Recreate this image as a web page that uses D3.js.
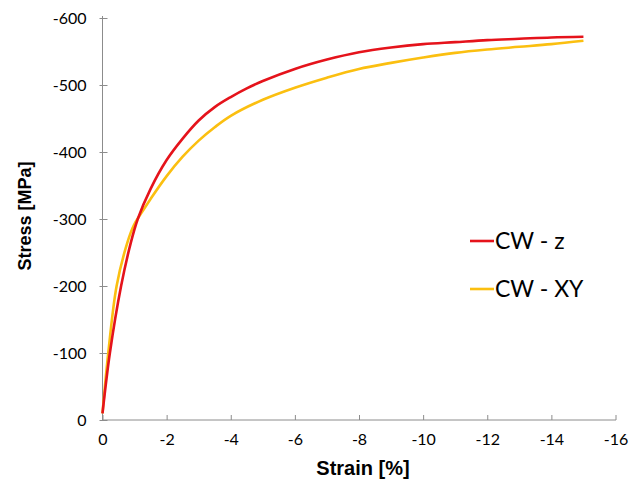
<!DOCTYPE html>
<html lang="en">
<head>
<meta charset="utf-8">
<style>
  body { margin: 0; background: #fff; }
  .axis path, .axis line { stroke: #8c8c8c; }
  .tick text { font-family: Lato, "Open Sans", sans-serif; font-size: 16px; fill: #000; }
  .title { font-family: "Liberation Sans", Arial, sans-serif; font-weight: bold; }
  .legend text { font-family: Lato, "Open Sans", sans-serif; font-size: 23px; }
</style>
<script src="https://cdn.jsdelivr.net/npm/d3@7"></script>
</head>
<body>
<svg width="630" height="489"></svg>
<script>
// strain [%], stress [MPa]
var cwzStrain = [0, -0.23, -0.58, -0.88, -1.1, -1.5, -2, -2.5, -3, -3.5, -4, -4.5, -5, -6, -7, -8, -9, -10, -11, -12, -13, -14, -15];
var cwzStress = [-10, -100, -200, -264, -300, -345, -388, -420, -447, -467, -482, -495, -506, -524, -538, -549, -556, -561, -564, -567, -569, -571, -572];

var cwxyStrain = [0, -0.18, -0.44, -0.77, -0.98, -1.2, -1.5, -2, -2.5, -3, -3.5, -4, -5, -6, -7, -8, -9, -10, -11, -12, -13, -14, -15];
var cwxyStress = [-10, -100, -200, -264, -291, -308, -330, -364, -393, -417, -437, -454, -478, -496, -511, -524, -533, -541, -548, -553, -557, -561, -566];

var xTicks = [0, -2, -4, -6, -8, -10, -12, -14, -16];
var yTicks = [0, -100, -200, -300, -400, -500, -600];

var series = [
  { name: "CW - z", color: "#e5131b", x: cwzStrain, y: cwzStress },
  { name: "CW - XY", color: "#fbbf10", x: cwxyStrain, y: cwxyStress }
];

var svg = d3.select("svg");
var x = d3.scaleLinear().domain([0, -16]).range([102.5, 615.5]);
var y = d3.scaleLinear().domain([0, -600]).range([420, 18]);
var fmt = function(d) { return String(d); };   // plain hyphen, like the original

// x axis, ticks point up
var gx = svg.append("g").attr("class", "axis")
    .attr("transform", "translate(0,420)")
    .call(d3.axisBottom(x).tickValues(xTicks).tickFormat(fmt)
      .tickSizeInner(-5).tickSizeOuter(0).tickPadding(14));
gx.select(".domain").attr("d", "M102.5,0H616");

// y axis, ticks cross the line
var gy = svg.append("g").attr("class", "axis")
    .attr("transform", "translate(102.5,0)")
    .call(d3.axisLeft(y).tickValues(yTicks).tickFormat(fmt)
      .tickSizeInner(3).tickSizeOuter(0).tickPadding(13));
gy.selectAll(".tick line").attr("x2", 5).attr("x1", -3);
gy.select(".domain").attr("d", "M0,420V16");

series.slice().reverse().forEach(function(s) {
  var pts = s.x.map(function(v, i) { return [v, s.y[i]]; });
  svg.append("path")
      .datum(pts)
      .attr("fill", "none")
      .attr("stroke", s.color)
      .attr("stroke-width", 2.6)
      .attr("d", d3.line()
        .x(function(d) { return x(d[0]); })
        .y(function(d) { return y(d[1]); })
        .curve(d3.curveCatmullRom.alpha(0.5)));
});

svg.append("text").attr("class", "title")
    .attr("x", 363).attr("y", 475).attr("text-anchor", "middle")
    .style("font-size", "20px")
    .text("Strain [%]");
svg.append("text").attr("class", "title")
    .attr("transform", "translate(31,216) rotate(-90)")
    .attr("text-anchor", "middle")
    .style("font-size", "18px")
    .text("Stress [MPa]");

var legend = svg.append("g").attr("class", "legend");
series.forEach(function(s, i) {
  var ly = 241 + i * 48;
  legend.append("line")
      .attr("x1", 470).attr("x2", 494).attr("y1", ly).attr("y2", ly)
      .attr("stroke", s.color).attr("stroke-width", 2.6);
  legend.append("text")
      .attr("x", 495).attr("y", ly + 8)
      .text(s.name);
});
</script>
</body>
</html>
